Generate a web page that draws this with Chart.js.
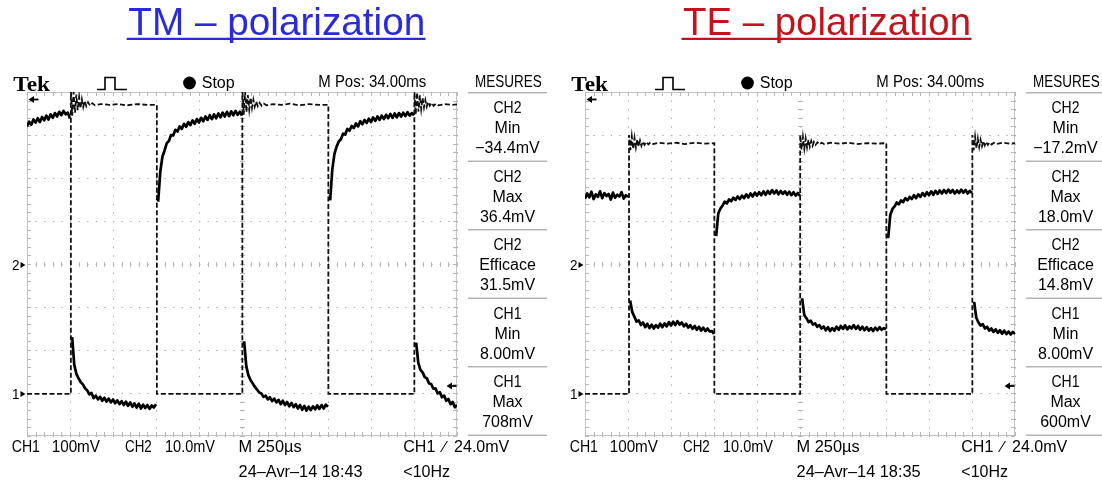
<!DOCTYPE html>
<html><head><meta charset="utf-8">
<script src="https://cdn.jsdelivr.net/npm/chart.js@4.4.1/dist/chart.umd.min.js"></script>
<style>
html,body{margin:0;padding:0;background:#fff;}
#page{position:relative;width:1102px;height:487px;overflow:hidden;background:#fff;}
canvas{position:absolute;}
#overlay{position:absolute;left:0;top:0;}
</style></head><body>
<div id="page">
<canvas id="tm" width="434" height="346" style="left:25px;top:91px;width:434px;height:346px"></canvas>
<canvas id="te" width="434" height="346" style="left:583px;top:91px;width:434px;height:346px"></canvas>
<svg id="overlay" width="1102" height="487" xmlns="http://www.w3.org/2000/svg"></svg>
</div>
<script>
// ---------- DATA ----------
// time axis: microseconds, 250 us/div, 10 divisions
const timeTicks = [0, 250, 500, 750, 1000, 1250, 1500, 1750, 2000, 2250, 2500];
const SAMPLE_US = 12.5; // CH2 record sample interval

// CH2 (10 mV/div) samples, TM polarization
const tmCh2 = [
 32.0, 33.1, 32.4, 33.6, 32.9, 33.9, 33.0, 34.2, 33.4, 34.5, 33.6, 34.8, 34.0, 35.1, 34.3, 35.4, 34.6, 35.6, 34.8, 35.2, 33.8,
 -17.0, -23.5, -25.6, -26.6, -27.5, -28.0, -28.9, -29.4, -30.3, -30.0, -31.2, -30.6, -31.5, -30.9, -31.8, -31.1, -32.0, -31.3, -32.2, -31.5,
 -32.4, -31.7, -32.6, -31.9, -32.8, -32.0, -33.0, -32.2, -33.2, -32.4, -33.4, -32.5, -33.6, -32.7, -33.5, -32.8, -33.7, -32.9, -33.4, -32.6,
 14.5, 21.5, 25.0, 26.4, 28.1, 28.6, 30.0, 29.9, 31.2, 30.8, 32.0, 31.4, 32.6, 31.9, 33.0, 32.3, 33.4, 32.6, 33.7, 32.9,
 34.0, 33.2, 34.3, 33.5, 34.6, 33.7, 34.8, 33.9, 35.0, 34.1, 35.2, 34.3, 35.4, 34.4, 35.5, 34.6, 35.6, 34.7, 35.4, 34.5,
 -18.0, -23.8, -25.9, -27.0, -27.8, -28.6, -29.2, -29.9, -30.1, -30.9, -30.6, -31.5, -31.0, -31.9, -31.3, -32.2, -31.6, -32.6, -31.8, -32.8,
 -32.1, -33.1, -32.3, -33.3, -32.6, -33.6, -32.8, -33.9, -33.0, -34.1, -33.2, -34.0, -33.1, -33.8, -32.9, -33.7, -32.8, -33.6, -32.7, -33.2,
 14.8, 22.0, 25.6, 27.3, 28.5, 29.0, 30.3, 30.1, 31.4, 31.0, 32.1, 31.6, 32.7, 32.0, 33.2, 32.5, 33.5, 32.8, 33.8, 33.0,
 34.1, 33.3, 34.3, 33.5, 34.5, 33.7, 34.7, 33.9, 34.9, 34.0, 35.0, 34.1, 35.1, 34.3, 35.2, 34.4, 35.3, 34.5, 35.1, 34.6,
 -18.3, -23.0, -24.6, -25.2, -26.3, -26.6, -27.8, -27.9, -29.0, -28.9, -30.1, -29.8, -31.0, -30.6, -31.8, -31.4, -32.6, -32.1, -33.3, -32.8
];

// CH2 (10 mV/div) samples, TE polarization
const teCh2 = [
 15.2, 16.4, 15.5, 16.8, 15.1, 16.2, 15.6, 16.9, 15.3, 16.5, 15.8, 16.3, 15.0, 16.6, 15.4, 16.1, 15.7, 16.7, 15.2, 16.0, 15.6,
 -8.5, -11.2, -12.3, -13.4, -13.1, -14.2, -13.6, -14.7, -13.9, -14.9, -14.1, -15.0, -14.2, -14.8, -13.9, -14.7, -13.8, -14.5, -13.5, -14.3,
 -13.4, -14.2, -13.3, -14.1, -13.6, -14.5, -13.9, -14.8, -14.2, -15.1, -14.4, -15.3, -14.6, -15.5, -14.8, -15.6, -15.0, -15.7, -15.6, -16.3,
 6.5, 11.8, 12.9, 13.6, 14.5, 14.1, 15.0, 14.6, 15.4, 14.9, 15.7, 15.1, 15.9, 15.3, 16.2, 15.5, 16.4, 15.7, 16.6, 15.9,
 16.7, 16.0, 16.9, 16.1, 17.0, 16.3, 17.2, 16.4, 17.1, 16.2, 17.0, 16.3, 16.9, 16.1, 16.8, 16.0, 16.7, 15.9, 16.5, 15.8,
 -8.0, -11.9, -12.6, -13.5, -13.2, -14.1, -13.8, -14.6, -14.2, -15.0, -14.5, -15.4, -14.7, -15.6, -14.9, -15.5, -14.6, -15.3, -14.4, -15.1,
 -14.3, -15.2, -14.5, -15.0, -14.2, -15.1, -14.4, -15.3, -14.6, -15.4, -14.7, -15.5, -14.9, -15.6, -14.8, -15.4, -14.7, -15.3, -14.9, -15.2,
 6.0, 11.4, 12.8, 13.4, 14.3, 13.9, 14.8, 14.4, 15.3, 14.8, 15.6, 15.1, 16.0, 15.3, 16.2, 15.6, 16.5, 15.8, 16.7, 16.0,
 16.9, 16.1, 17.0, 16.3, 17.1, 16.4, 17.2, 16.5, 17.3, 16.6, 17.2, 16.4, 17.1, 16.5, 17.3, 16.6, 17.2, 16.4, 17.0, 16.5,
 -8.8, -12.5, -13.6, -14.3, -14.0, -15.0, -14.6, -15.5, -15.0, -15.8, -15.2, -16.0, -15.4, -16.2, -15.5, -16.3, -15.7, -16.4, -15.8, -16.2
];

// CH1 (100 mV/div) square drive, [time us, mV], TM polarization
const tmCh1 = [
 [0,-2],[255,-2],
 [255,708],[263,645],[271,700],[279,652],[287,694],[295,658],[303,688],[311,662],[319,683],[327,665],[335,679],[345,667],[355,676],[367,668],[380,674],[395,669],
 [430,672],[480,670],[530,672],[580,669],[640,672],[700,670],[755,670],
 [755,-2],[1252,-2],
 [1252,708],[1260,647],[1268,701],[1276,653],[1284,693],[1292,659],[1300,687],[1308,663],[1316,682],[1324,666],[1332,678],[1342,667],[1352,675],[1364,668],[1377,673],[1392,669],
 [1430,672],[1480,670],[1530,673],[1580,669],[1640,672],[1700,670],[1752,670],
 [1752,-2],[2252,-2],
 [2252,708],[2260,648],[2268,699],[2276,654],[2284,692],[2292,660],[2300,686],[2308,664],[2316,681],[2324,666],[2332,677],[2342,668],[2352,675],[2364,668],[2377,673],[2392,669],
 [2430,672],[2470,670],[2500,671]
];

// CH1 (100 mV/div) square drive, [time us, mV], TE polarization
const teCh1 = [
 [0,-2],[256,-2],
 [256,600],[264,565],[272,597],[280,568],[288,593],[296,571],[304,590],[312,573],[320,587],[328,575],[336,585],[346,577],[356,584],[368,578],[381,583],[396,579],
 [430,582],[480,580],[530,582],[580,579],[640,582],[700,580],[752,581],
 [752,-2],[1251,-2],
 [1251,600],[1259,566],[1267,596],[1275,568],[1283,592],[1291,571],[1299,589],[1307,573],[1315,586],[1323,575],[1331,584],[1341,577],[1351,583],[1363,578],[1376,582],[1391,579],
 [1430,582],[1480,580],[1530,582],[1580,579],[1640,581],[1700,580],[1752,581],
 [1752,-2],[2252,-2],
 [2252,600],[2260,565],[2268,596],[2276,569],[2284,592],[2292,572],[2300,589],[2308,574],[2316,586],[2324,576],[2332,584],[2342,577],[2352,583],[2364,578],[2377,582],[2392,579],
 [2430,582],[2470,580],[2500,581]
];

// screen text
const titles = ['TM \u2013 polarization', 'TE \u2013 polarization'];
const measureLabels = [
  [['CH2','Min','\u221234.4mV'],['CH2','Max','36.4mV'],['CH2','Efficace','31.5mV'],['CH1','Min','8.00mV'],['CH1','Max','708mV']],
  [['CH2','Min','\u221217.2mV'],['CH2','Max','18.0mV'],['CH2','Efficace','14.8mV'],['CH1','Min','8.00mV'],['CH1','Max','600mV']]
];
const dateLabels = ['24\u2013Avr\u201314 18:43', '24\u2013Avr\u201314 18:35'];
const headerLabels = ['Tek', 'Stop', 'M Pos: 34.00ms', 'MESURES'];
const footerLabels = ['CH1', '100mV', 'CH2', '10.0mV', 'M 250\u00b5s', 'CH1\u2002\u2215\u200224.0mV', '<10Hz'];

// ---------- CHARTS ----------
const graticule = {
  id: 'graticule',
  beforeDatasetsDraw(chart) {
    const {ctx, chartArea: a, scales: {x, y}} = chart;
    ctx.save();
    ctx.strokeStyle = '#c4c4c4';
    ctx.lineWidth = 1;
    ctx.strokeRect(Math.round(a.left) + 0.5, Math.round(a.top) + 0.5, Math.round(a.width) - 1, Math.round(a.height) - 1);
    ctx.strokeStyle = '#b8b8b8';
    ctx.beginPath();
    const cy = Math.round(y.getPixelForValue(300)) + 0.5;
    const cx = Math.round(x.getPixelForValue(1250)) + 0.5;
    for (let v = x.min; v <= x.max; v += 50) {
      const p = Math.round(x.getPixelForValue(v)) + 0.5;
      ctx.moveTo(p, a.top); ctx.lineTo(p, a.top + 4);
      ctx.moveTo(p, a.bottom); ctx.lineTo(p, a.bottom - 4);
      ctx.moveTo(p, cy - 2.5); ctx.lineTo(p, cy + 2.5);
    }
    for (let v = y.min; v <= y.max; v += 20) {
      const p = Math.round(y.getPixelForValue(v)) + 0.5;
      ctx.moveTo(a.left, p); ctx.lineTo(a.left + 4, p);
      ctx.moveTo(a.right, p); ctx.lineTo(a.right - 4, p);
      ctx.moveTo(cx - 2.5, p); ctx.lineTo(cx + 2.5, p);
    }
    ctx.stroke();
    ctx.restore();
  }
};

function makeScope(id, ch1, ch2) {
  const ch2Points = ch2.map((v, i) => ({x: i * SAMPLE_US, y: v}));
  const ch1Points = ch1.map(([t, v]) => ({x: t, y: v}));
  const gridCommon = {color: '#a4a4a4', lineWidth: 1, drawTicks: false};
  return new Chart(document.getElementById(id), {
    type: 'line',
    data: {
      datasets: [
        {label: 'CH2', data: ch2Points, yAxisID: 'y2', borderColor: '#000', borderWidth: 2.7,
         pointRadius: 0, tension: 0, borderJoinStyle: 'round',
         segment: {borderColor: c => Math.abs(c.p1.parsed.y - c.p0.parsed.y) > 12 ? 'rgba(0,0,0,0)' : '#000'}},
        {label: 'CH1', data: ch1Points, yAxisID: 'y', borderColor: '#111', borderWidth: 1.8,
         borderDash: [5, 2.5], pointRadius: 0, tension: 0}
      ]
    },
    options: {
      responsive: false, animation: false, devicePixelRatio: 1,
      layout: {padding: {left: 2, right: 2, top: 1, bottom: 1}},
      plugins: {legend: {display: false}, tooltip: {enabled: false}},
      scales: {
        x: {type: 'linear', min: 0, max: 2500,
            afterBuildTicks: s => { s.ticks = timeTicks.map(v => ({value: v})); },
            ticks: {display: false}, grid: gridCommon, border: {display: false, dash: [1.3, 7.3]}},
        y: {type: 'linear', min: -100, max: 700, ticks: {display: false, stepSize: 100},
            grid: gridCommon, border: {display: false, dash: [1.3, 7.3]}},
        y2: {type: 'linear', display: false, min: -40, max: 40}
      }
    },
    plugins: [graticule]
  });
}
makeScope('tm', tmCh1, tmCh2);
makeScope('te', teCh1, teCh2);

// ---------- OVERLAY TEXT ----------
const NS = 'http://www.w3.org/2000/svg';
const svg = document.getElementById('overlay');
const SANS = "'Liberation Sans', Arial, sans-serif";
function el(tag, attrs) {
  const e = document.createElementNS(NS, tag);
  for (const k in attrs) e.setAttribute(k, attrs[k]);
  svg.appendChild(e);
  return e;
}
function txt(str, x, y, o = {}) {
  const t = el('text', {x, y, 'font-family': o.family || SANS, 'font-size': o.size || 16,
    fill: o.fill || '#000', 'text-anchor': o.anchor || 'start'});
  if (o.weight) t.setAttribute('font-weight', o.weight);
  if (o.len) { t.setAttribute('textLength', o.len); t.setAttribute('lengthAdjust', 'spacingAndGlyphs'); }
  t.textContent = str;
  return t;
}
function arrowLeft(x, y) {
  el('polygon', {points: `${x},${y} ${x + 5.5},${y - 3.6} ${x + 5.5},${y + 3.6}`, fill: '#000'});
  el('line', {x1: x + 4.5, y1: y, x2: x + 10, y2: y, stroke: '#000', 'stroke-width': 1.8});
}
function marker(label, x, y) {
  txt(label, x, y + 5, {size: 14, len: 7.5});
  el('polygon', {points: `${x + 8.5},${y - 3} ${x + 13.5},${y} ${x + 8.5},${y + 3}`, fill: '#000'});
}

// titles
const titleGeo = [{x: 128.3, len: 297, fill: '#2a2ad6', u1: 126.7, u2: 425.5},
                  {x: 683, len: 288, fill: '#bf151c', u1: 681.5, u2: 971.5}];
titles.forEach((t, i) => {
  const g = titleGeo[i];
  txt(t, g.x, 35, {size: 39, len: g.len, fill: g.fill});
  el('line', {x1: g.u1, y1: 38.8, x2: g.u2, y2: 38.8, stroke: g.fill, 'stroke-width': 2.3});
});

[0, 1].forEach(k => {
  const ox = k * 558;
  // header
  txt(headerLabels[0], ox + 13.3, 90.5, {family: "'Liberation Serif','Times New Roman',serif", weight: 'bold', size: 22, len: 36.7});
  el('polyline', {points: `${ox+97},89.5 ${ox+105},89.5 ${ox+105},77.5 ${ox+115},77.5 ${ox+115},89.5 ${ox+127},89.5`,
                  fill: 'none', stroke: '#000', 'stroke-width': 1.6});
  el('circle', {cx: ox + 189.5, cy: 83, r: 6.4, fill: '#000'});
  txt(headerLabels[1], ox + 201.7, 87.5, {len: 33});
  txt(headerLabels[2], ox + 318.3, 86.7, {len: 108});
  txt(headerLabels[3], ox + 475, 86.7, {len: 66.7});
  // measurement panel
  for (let b = 0; b <= 5; b++) {
    const s = 92.7 + 68.5 * b;
    el('line', {x1: ox + 468, y1: s, x2: ox + 547, y2: s, stroke: '#b4b4b4', 'stroke-width': 1.5});
  }
  measureLabels[k].forEach((lines, b) => {
    const s = 92.7 + 68.5 * b;
    txt(lines[0], ox + 507.5, s + 20.6, {anchor: 'middle', len: 28});
    txt(lines[1], ox + 507.5, s + 40.6, {anchor: 'middle'});
    txt(lines[2], ox + 507.5, s + 60.6, {anchor: 'middle'});
  });
  // footer
  txt(footerLabels[0], ox + 11.7, 451.7, {len: 28.3});
  txt(footerLabels[1], ox + 51.7, 451.7, {len: 48.3});
  txt(footerLabels[2], ox + 125, 451.7, {len: 26.7});
  txt(footerLabels[3], ox + 165, 451.7, {len: 50});
  txt(footerLabels[4], ox + 238.6, 451.7, {len: 63});
  txt(footerLabels[5], ox + 403.3, 451.7, {len: 106});
  txt(dateLabels[k], ox + 238.6, 476.5, {len: 124});
  txt(footerLabels[6], ox + 403.3, 476.5, {len: 46.7});
  // screen markers
  arrowLeft(ox + 28.5, 99.5);
  arrowLeft(ox + 446.5, 386);
  marker('2', ox + 12, 265);
  marker('1', ox + 12, 394);
});
</script>
</body></html>
